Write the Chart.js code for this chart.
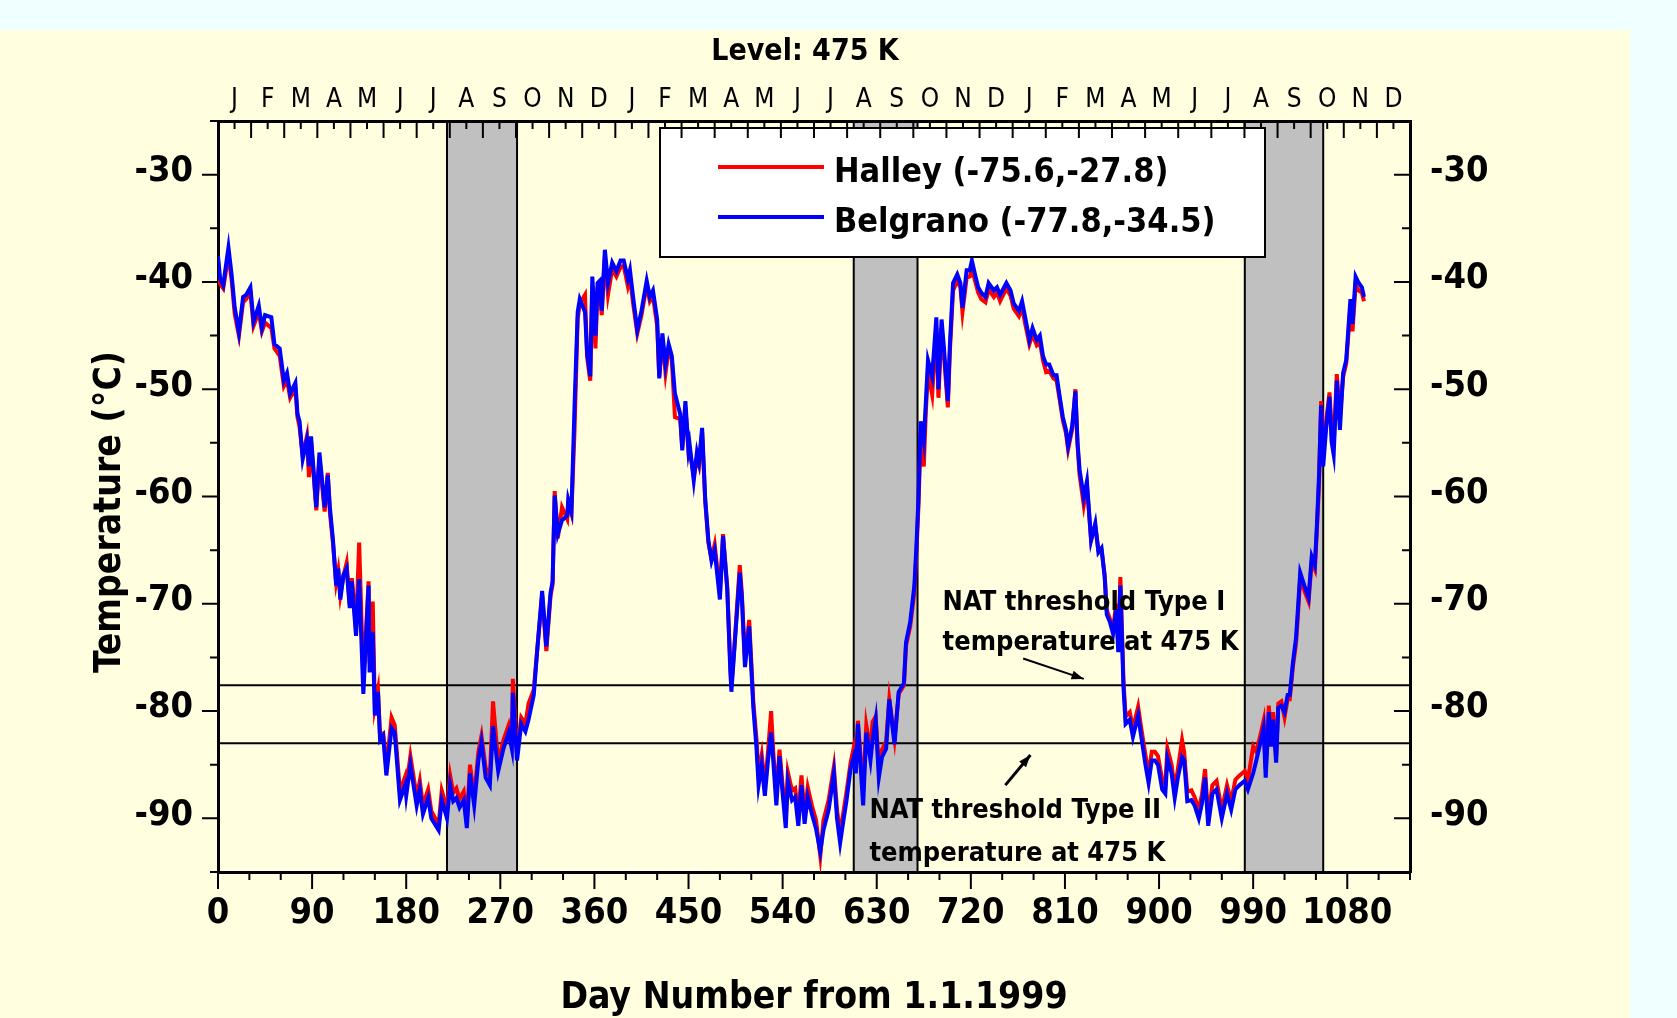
<!DOCTYPE html>
<html>
<head>
<meta charset="utf-8">
<title>Level: 475 K</title>
<script src="https://cdn.jsdelivr.net/npm/chart.js@4.4.1/dist/chart.umd.min.js"></script>
<style>
  html, body { margin: 0; padding: 0; background: #f0ffff; overflow: hidden; }
  canvas { display: block; }
</style>
</head>
<body>
<canvas id="chart" width="1677" height="1018" style="width:1677px;height:1018px"></canvas>
<script>
/* Halley / Belgrano temperature at 475 K, days from 1.1.1999 */

const FONT = "'DejaVu Sans Condensed', 'DejaVu Sans', sans-serif";

/* sample days (shared by both stations) */
const days = [
  0, 2, 5, 10, 13, 16, 20, 24, 27, 31,
  34, 39, 42, 45, 51, 54, 59, 63, 66, 69,
  74, 76, 78, 81, 85, 87, 89, 94, 97, 102,
  105, 107, 110, 113, 115, 117, 120, 123, 126, 128,
  132, 135, 139, 144, 145, 148, 150, 153, 155, 158,
  161, 166, 169, 174, 179, 180, 184, 190, 193, 196,
  201, 204, 211, 214, 219, 222, 225, 228, 231, 235,
  238, 241, 245, 249, 252, 256, 260, 263, 268, 273,
  278, 281, 282, 286, 290, 294, 297, 302, 305, 310,
  314, 318, 320, 322, 325, 329, 334, 335, 338, 341,
  344, 346, 351, 353, 356, 358, 361, 363, 365, 367,
  370, 373, 377, 381, 385, 388, 392, 394, 397, 401,
  405, 410, 413, 416, 420, 422, 425, 428, 431, 434,
  437, 442, 444, 447, 450, 451, 455, 458, 460, 463,
  466, 469, 472, 475, 480, 483, 487, 490, 491, 494,
  499, 501, 504, 508, 512, 515, 517, 520, 523, 526,
  529, 531, 534, 537, 540, 543, 545, 549, 552, 555,
  558, 561, 564, 568, 572, 576, 579, 584, 589, 592,
  595, 598, 601, 605, 608, 610, 612, 617, 620, 624,
  626, 629, 632, 635, 639, 642, 647, 651, 656, 658,
  662, 666, 668, 670, 672, 675, 677, 679, 683, 687,
  689, 692, 694, 698, 700, 703, 707, 710, 712, 716,
  719, 721, 724, 727, 730, 734, 737, 742, 745, 748,
  754, 758, 761, 766, 769, 772, 776, 779, 783, 786,
  789, 792, 795, 799, 802, 805, 808, 811, 813, 817,
  820, 822, 824, 828, 831, 835, 839, 842, 845, 848,
  850, 853, 856, 859, 861, 863, 866, 868, 872, 875,
  877, 880, 883, 887, 890, 893, 896, 899, 903, 906,
  908, 912, 915, 918, 922, 924, 927, 931, 934, 938,
  941, 944, 947, 951, 955, 960, 965, 969, 973, 977,
  982, 985, 990, 993, 997, 1000, 1002, 1005, 1007, 1009,
  1012, 1014, 1017, 1020, 1023, 1025, 1028, 1031, 1033, 1035,
  1039, 1043, 1046, 1049, 1051, 1053, 1055, 1057, 1060, 1063,
  1065, 1067, 1070, 1073, 1076, 1079, 1083, 1085, 1088, 1091,
  1094, 1096
];

/* Belgrano (-77.8,-34.5), deg C */
const belgrano = [
  -37.6, -39.7, -40.3, -36.8, -39.3, -42.4, -44.7, -41.4, -41.2, -40.5,
  -43.7, -42.2, -44.3, -43.1, -43.3, -45.8, -46.2, -49.2, -48.5, -50.4,
  -49.4, -52.3, -53.0, -56.5, -54.7, -57.2, -54.4, -61.0, -55.9, -61.0,
  -58.0, -61.0, -64.1, -68.3, -66.7, -69.6, -67.3, -66.7, -70.4, -67.9,
  -73.0, -67.7, -78.4, -68.3, -76.4, -72.6, -80.4, -78.2, -82.7, -82.3,
  -86.0, -81.6, -82.0, -88.3, -86.9, -87.9, -85.0, -88.8, -87.3, -89.6,
  -88.1, -90.0, -91.1, -88.3, -90.0, -86.9, -88.4, -88.1, -89.0, -88.3,
  -90.9, -85.8, -88.8, -84.6, -82.9, -86.2, -86.9, -81.4, -85.6, -83.5,
  -82.0, -83.5, -78.3, -84.6, -81.2, -81.9, -80.8, -78.5, -74.7, -68.8,
  -74.0, -69.0, -67.9, -59.9, -63.5, -62.2, -61.8, -60.3, -61.4, -51.5,
  -42.8, -41.6, -42.8, -46.6, -48.8, -39.5, -45.0, -40.1, -39.9, -42.7,
  -37.0, -40.1, -38.2, -39.0, -38.0, -38.0, -39.7, -38.9, -41.4, -44.5,
  -42.7, -39.9, -41.4, -40.8, -43.5, -49.0, -44.8, -47.7, -45.8, -46.9,
  -50.4, -52.3, -55.7, -51.1, -55.7, -55.1, -58.5, -55.9, -56.8, -53.6,
  -60.3, -64.1, -66.0, -65.0, -69.6, -63.7, -68.6, -76.3, -78.2, -74.0,
  -67.1, -69.4, -75.9, -72.1, -79.7, -83.5, -86.9, -85.0, -87.9, -84.6,
  -82.0, -84.6, -88.8, -84.2, -87.7, -90.9, -86.5, -88.3, -88.0, -90.7,
  -86.9, -90.5, -88.0, -89.6, -91.0, -93.1, -91.1, -89.2, -85.8, -90.0,
  -92.3, -90.3, -88.4, -85.4, -84.3, -85.8, -81.2, -88.8, -82.0, -84.6,
  -82.7, -80.8, -86.2, -84.3, -83.5, -78.9, -83.1, -78.2, -77.4, -73.6,
  -71.7, -68.3, -64.5, -59.9, -53.0, -54.9, -51.1, -47.3, -48.8, -43.3,
  -50.0, -43.5, -45.8, -51.1, -45.8, -40.1, -39.3, -40.1, -42.4, -38.9,
  -38.9, -38.0, -39.3, -40.5, -41.0, -41.4, -40.1, -40.8, -40.5, -41.2,
  -40.1, -40.8, -42.0, -42.7, -41.8, -43.3, -45.4, -44.3, -45.4, -45.0,
  -46.9, -47.7, -47.7, -48.7, -48.7, -50.7, -52.6, -53.8, -55.3, -53.4,
  -50.2, -54.9, -57.5, -60.1, -58.6, -64.1, -62.5, -65.2, -64.8, -67.5,
  -71.0, -71.7, -72.8, -70.5, -74.5, -68.3, -77.8, -81.2, -80.8, -82.4,
  -81.6, -80.4, -82.4, -85.0, -86.7, -84.6, -84.6, -85.0, -87.3, -87.7,
  -84.4, -85.8, -88.1, -86.2, -84.3, -84.6, -88.4, -88.3, -88.8, -90.0,
  -88.6, -86.2, -90.7, -87.7, -87.3, -90.0, -87.7, -89.2, -87.3, -86.9,
  -86.5, -87.3, -85.8, -84.6, -82.9, -81.6, -86.2, -80.1, -83.3, -80.8,
  -84.8, -79.7, -79.5, -80.1, -78.5, -78.5, -75.5, -73.2, -70.2, -67.1,
  -68.3, -69.4, -65.6, -66.4, -62.6, -58.0, -51.5, -57.2, -53.4, -50.7,
  -54.9, -56.1, -49.2, -53.8, -48.5, -47.3, -41.6, -43.9, -39.5, -40.1,
  -40.5, -41.4
];

/* Halley (-75.6,-27.8), deg C */
const halley = [
  -38.0, -40.2, -40.6, -37.5, -39.8, -43.0, -45.0, -41.9, -41.6, -41.0,
  -44.1, -42.8, -44.6, -43.8, -44.3, -46.2, -46.9, -49.7, -49.1, -50.8,
  -49.9, -52.6, -53.5, -56.2, -54.4, -58.2, -54.9, -61.3, -56.4, -61.4,
  -57.8, -61.5, -64.4, -68.0, -66.9, -69.2, -67.4, -66.2, -70.1, -67.6,
  -72.4, -64.3, -77.2, -67.9, -75.5, -69.8, -79.6, -78.0, -82.3, -82.1,
  -85.3, -80.6, -81.3, -87.5, -86.1, -87.1, -84.2, -88.0, -86.5, -88.8,
  -87.3, -89.3, -90.6, -87.4, -89.1, -86.0, -87.6, -87.2, -88.2, -87.5,
  -90.2, -85.0, -88.0, -83.8, -82.3, -85.3, -86.1, -79.1, -84.8, -82.7,
  -81.3, -82.8, -77.0, -83.9, -80.6, -81.2, -79.3, -78.0, -74.6, -69.2,
  -74.4, -69.3, -68.2, -59.5, -63.9, -61.0, -62.1, -60.6, -61.6, -53.8,
  -43.4, -42.0, -41.2, -47.0, -49.2, -40.3, -46.2, -40.6, -40.4, -43.1,
  -37.6, -41.2, -38.8, -39.5, -38.6, -38.5, -40.4, -39.6, -42.0, -44.8,
  -43.1, -40.3, -41.8, -41.3, -44.1, -48.8, -45.3, -48.5, -46.3, -47.2,
  -52.6, -52.8, -55.4, -51.7, -55.9, -55.6, -58.1, -56.4, -57.1, -54.0,
  -60.5, -64.3, -65.8, -64.5, -69.0, -63.5, -68.4, -75.8, -77.7, -73.8,
  -66.4, -69.0, -75.3, -71.5, -79.2, -82.6, -85.9, -84.1, -87.0, -83.8,
  -80.0, -83.7, -87.9, -83.6, -86.9, -90.0, -85.7, -87.4, -87.2, -89.8,
  -86.0, -89.7, -87.1, -88.8, -90.2, -93.5, -90.2, -88.3, -85.2, -89.2,
  -91.4, -89.5, -87.6, -84.8, -83.4, -84.9, -80.9, -87.5, -81.3, -83.7,
  -81.0, -80.5, -85.3, -83.6, -82.8, -78.9, -82.6, -78.4, -77.6, -73.9,
  -72.1, -68.9, -65.2, -60.7, -54.2, -57.2, -52.0, -48.4, -50.5, -44.2,
  -50.8, -44.3, -46.5, -51.7, -46.4, -40.8, -39.9, -40.5, -42.8, -39.6,
  -39.5, -38.8, -39.9, -41.0, -41.6, -41.9, -40.7, -41.4, -41.0, -41.8,
  -40.6, -41.3, -42.5, -43.2, -42.4, -43.9, -45.8, -44.9, -45.9, -45.6,
  -47.3, -48.4, -48.3, -49.0, -49.2, -51.0, -52.9, -54.1, -55.6, -53.7,
  -50.0, -55.2, -58.0, -60.8, -59.0, -64.0, -62.8, -65.0, -65.0, -67.3,
  -70.6, -71.4, -72.4, -70.0, -73.9, -67.5, -77.2, -80.5, -80.1, -81.6,
  -80.8, -79.6, -81.6, -84.1, -85.9, -83.8, -83.8, -84.2, -86.4, -86.8,
  -83.5, -85.0, -87.3, -85.4, -82.7, -83.8, -87.5, -87.4, -88.0, -89.2,
  -87.8, -85.4, -89.9, -86.9, -86.5, -89.2, -86.9, -88.4, -86.4, -86.0,
  -85.6, -86.4, -83.3, -83.8, -82.2, -80.9, -85.4, -79.5, -82.5, -80.1,
  -84.2, -79.3, -79.1, -80.6, -78.9, -78.9, -75.9, -73.7, -70.8, -67.6,
  -68.8, -69.8, -66.1, -66.8, -63.1, -58.8, -51.1, -56.0, -52.8, -50.3,
  -53.6, -55.2, -48.6, -52.6, -48.9, -47.6, -42.3, -44.6, -40.3, -40.8,
  -41.0, -41.8
];

/* NAT thresholds (Type I, Type II) at 475 K */
const natLevels = [-77.6, -83.0];

/* shaded Aug–Sep periods, in days */
const bandStart = [219, 608, 982];
const bandEnd   = [286, 669, 1057];

/* axes */
const dayTicks  = [0, 90, 180, 270, 360, 450, 540, 630, 720, 810, 900, 990, 1080];
const tempTicks = [-90, -80, -70, -60, -50, -40, -30];
const monthLetters = ['J','F','M','A','M','J','J','A','S','O','N','D',
                      'J','F','M','A','M','J','J','A','S','O','N','D',
                      'J','F','M','A','M','J','J','A','S','O','N','D'];

const DAY_MIN = 0, DAY_MAX = 1140, T_MIN = -95, T_MAX = -25;

Chart.defaults.font.family = FONT;
Chart.defaults.color = '#000';

function pts(ys) { return days.map((d, i) => ({ x: d, y: ys[i] })); }

function arrow(ctx, x1, y1, x2, y2) {
  const a = Math.atan2(y2 - y1, x2 - x1), h = 13;
  ctx.beginPath(); ctx.moveTo(x1, y1); ctx.lineTo(x2, y2); ctx.stroke();
  ctx.beginPath();
  ctx.moveTo(x2, y2);
  ctx.lineTo(x2 - h * Math.cos(a - 0.35), y2 - h * Math.sin(a - 0.35));
  ctx.lineTo(x2 - h * Math.cos(a + 0.35), y2 - h * Math.sin(a + 0.35));
  ctx.closePath(); ctx.fill();
}

/* yellow panel + shaded bands, under everything */
const panelPlugin = {
  id: 'panel',
  beforeDraw(chart) {
    const { ctx, chartArea: a, scales: { x } } = chart;
    ctx.save();
    ctx.fillStyle = '#f0ffff';
    ctx.fillRect(0, 0, chart.width, chart.height);
    ctx.fillStyle = '#ffffe0';
    ctx.fillRect(0, 30, 1630, chart.height - 30);
    ctx.strokeStyle = '#000';
    ctx.lineWidth = 2;
    bandStart.forEach((s, i) => {
      const x1 = x.getPixelForValue(s), x2 = x.getPixelForValue(bandEnd[i]);
      ctx.fillStyle = '#c0c0c0';
      ctx.fillRect(x1, a.top, x2 - x1, a.bottom - a.top);
      ctx.beginPath();
      ctx.moveTo(x1, a.top); ctx.lineTo(x1, a.bottom);
      ctx.moveTo(x2, a.top); ctx.lineTo(x2, a.bottom);
      ctx.stroke();
    });
    ctx.restore();
  }
};

/* legend box and NAT annotations */
const overlayPlugin = {
  id: 'overlay',
  afterDatasetsDraw(chart) {
    const { ctx, scales: { x, y } } = chart;
    ctx.save();
    // legend
    ctx.fillStyle = '#fff';
    ctx.fillRect(660, 128, 605, 129);
    ctx.strokeStyle = '#000';
    ctx.lineWidth = 2;
    ctx.strokeRect(660, 128, 605, 129);
    const rows = [chart.data.datasets[1], chart.data.datasets[0]];
    ctx.font = 'bold 34px ' + FONT;
    ctx.textBaseline = 'alphabetic';
    rows.forEach((ds, i) => {
      const ly = 167 + i * 50;
      ctx.strokeStyle = ds.borderColor;
      ctx.lineWidth = 4;
      ctx.beginPath(); ctx.moveTo(718, ly); ctx.lineTo(824, ly); ctx.stroke();
      ctx.fillStyle = '#000';
      ctx.fillText(ds.label, 834, ly + 15);
    });

    // annotations (placed in data units)
    ctx.font = 'bold 27px ' + FONT;
    ctx.fillStyle = '#000';
    ctx.strokeStyle = '#000';
    ctx.lineWidth = 2;
    ctx.fillText('NAT threshold Type I', x.getPixelForValue(693), y.getPixelForValue(-70.6));
    ctx.fillText('temperature at 475 K', x.getPixelForValue(693), y.getPixelForValue(-74.3));
    ctx.fillText('NAT threshold Type II', x.getPixelForValue(623), y.getPixelForValue(-90.0));
    ctx.fillText('temperature at 475 K', x.getPixelForValue(623), y.getPixelForValue(-94.0));
    arrow(ctx, x.getPixelForValue(770), y.getPixelForValue(-75.1),
               x.getPixelForValue(828), y.getPixelForValue(-77.0));
    ctx.lineWidth = 3;
    arrow(ctx, x.getPixelForValue(753), y.getPixelForValue(-86.9),
               x.getPixelForValue(777), y.getPixelForValue(-84.1));
    ctx.restore();
  }
};

/* tick marks, titles */
const framePlugin = {
  id: 'frame',
  afterDraw(chart) {
    const { ctx, chartArea: a, scales: { x, xTop, y } } = chart;
    ctx.save();
    ctx.strokeStyle = '#000';
    ctx.lineWidth = 2;
    ctx.beginPath();
    for (let v = T_MIN; v <= T_MAX; v += 5) {
      const py = y.getPixelForValue(v), len = v % 10 === 0 ? 16 : 8;
      ctx.moveTo(a.left - len, py); ctx.lineTo(a.left, py);
      ctx.moveTo(a.right - len, py); ctx.lineTo(a.right, py);
    }
    for (let d = DAY_MIN; d <= DAY_MAX; d += 30) {
      const px = x.getPixelForValue(d), len = d % 90 === 0 ? 17 : 8;
      ctx.moveTo(px, a.bottom); ctx.lineTo(px, a.bottom + len);
    }
    for (let m = 0; m <= monthLetters.length; m += 0.5) {
      const px = xTop.getPixelForValue(m), len = m % 1 === 0 ? 17 : 8;
      ctx.moveTo(px, a.top); ctx.lineTo(px, a.top + len);
    }
    ctx.stroke();

    ctx.fillStyle = '#000';
    ctx.textAlign = 'center';
    ctx.textBaseline = 'alphabetic';
    ctx.font = 'bold 30px ' + FONT;
    ctx.fillText('Level: 475 K', 805, 60);
    ctx.font = 'bold 37px ' + FONT;
    ctx.fillText('Day Number from 1.1.1999', 814, 1008);
    ctx.translate(120, 512);
    ctx.rotate(-Math.PI / 2);
    ctx.fillText('Temperature (\u00B0C)', 0, 0);
    ctx.restore();
  }
};

const tickFont = { size: 36, weight: 'bold' };
const axisBorder = { display: true, color: '#000', width: 3 };
const noGrid = { drawOnChartArea: false, drawTicks: false };

new Chart(document.getElementById('chart'), {
  type: 'line',
  data: {
    datasets: [
      { label: 'Belgrano (-77.8,-34.5)', data: pts(belgrano), xAxisID: 'x', yAxisID: 'y',
        borderColor: '#0000ff', borderWidth: 4, pointRadius: 0, tension: 0, order: 0 },
      { label: 'Halley (-75.6,-27.8)', data: pts(halley), xAxisID: 'x', yAxisID: 'y',
        borderColor: '#ff0000', borderWidth: 4, pointRadius: 0, tension: 0, order: 1 },
      ...natLevels.map(v => ({
        label: 'NAT ' + v, data: [{ x: DAY_MIN, y: v }, { x: DAY_MAX, y: v }],
        xAxisID: 'x', yAxisID: 'y', borderColor: '#000', borderWidth: 2, pointRadius: 0, order: 2
      }))
    ]
  },
  options: {
    responsive: false,
    animation: false,
    events: [],
    layout: { padding: 0 },
    plugins: { legend: { display: false }, tooltip: { enabled: false } },
    scales: {
      x: {
        type: 'linear', position: 'bottom', min: DAY_MIN, max: DAY_MAX,
        afterBuildTicks: s => { s.ticks = dayTicks.map(v => ({ value: v })); },
        afterFit: s => { s.height = 146; },
        ticks: { font: tickFont, padding: 20, maxRotation: 0, autoSkip: false, callback: v => String(v) },
        grid: noGrid, border: axisBorder
      },
      xTop: {
        type: 'linear', position: 'top', min: 0, max: monthLetters.length,
        afterBuildTicks: s => { s.ticks = monthLetters.map((_, i) => ({ value: i + 0.5 })); },
        afterFit: s => { s.height = 121; },
        ticks: { font: { size: 26, weight: 'normal' }, padding: 5, maxRotation: 0, autoSkip: false,
                 callback: (v, i) => monthLetters[i] },
        grid: noGrid, border: axisBorder
      },
      y: {
        type: 'linear', position: 'left', min: T_MIN, max: T_MAX,
        afterBuildTicks: s => { s.ticks = tempTicks.map(v => ({ value: v })); },
        afterFit: s => { s.width = 218; },
        ticks: { font: tickFont, padding: 25, labelOffset: -3, callback: v => String(v) },
        grid: noGrid, border: axisBorder
      },
      y2: {
        type: 'linear', position: 'right', min: T_MIN, max: T_MAX,
        afterBuildTicks: s => { s.ticks = tempTicks.map(v => ({ value: v })); },
        afterFit: s => { s.width = 267; },
        ticks: { font: tickFont, padding: 20, labelOffset: -3, callback: v => String(v) },
        grid: noGrid, border: axisBorder
      }
    }
  },
  plugins: [panelPlugin, overlayPlugin, framePlugin]
});
</script>
</body>
</html>
